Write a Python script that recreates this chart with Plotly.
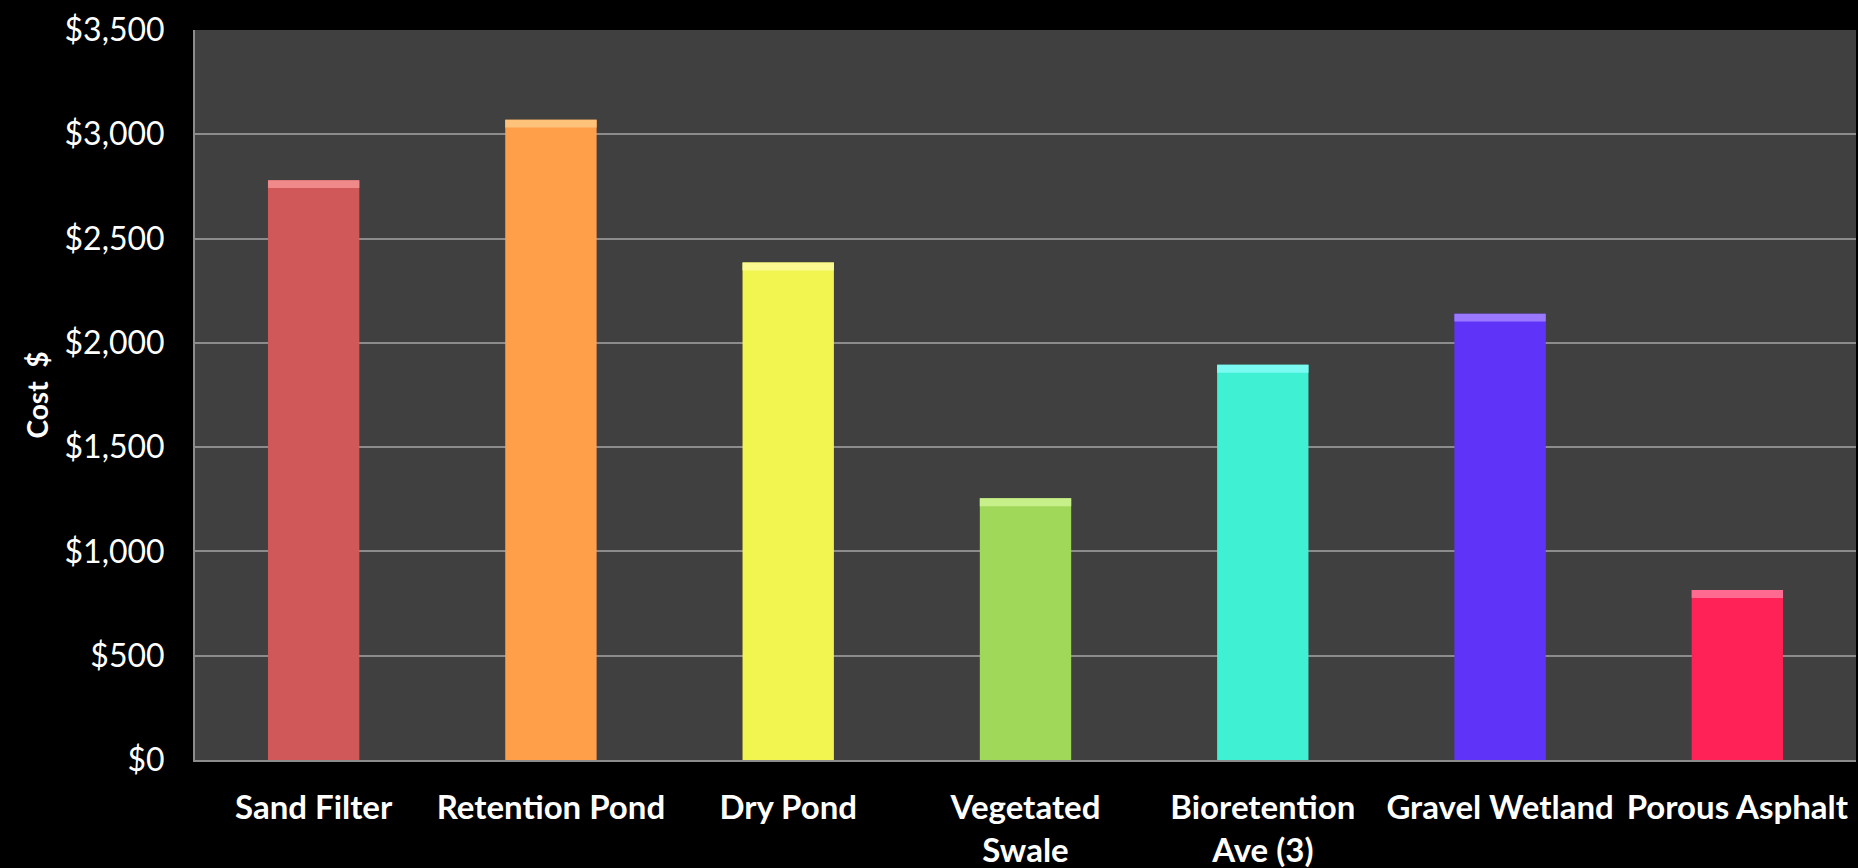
import plotly.graph_objects as go

categories = ["Sand Filter", "Retention Pond", "Dry Pond", "Vegetated<br>Swale",
              "Bioretention<br>Ave (3)", "Gravel Wetland", "Porous Asphalt"]
costs = [2780, 3070, 2385, 1255, 1895, 2140, 815]
bar_colors = ["#D05858", "#FF9F4A", "#F2F550", "#A0D85A", "#40F0D2", "#6034F8", "#FF2257"]
top_colors = ["#F08A8A", "#FFC27A", "#FAFA90", "#C8F08A", "#7AFAF0", "#9A78FF", "#FF6A90"]
y_ticks = [0, 500, 1000, 1500, 2000, 2500, 3000, 3500]
y_tick_labels = ["$" + f"{v:,}" for v in y_ticks]

BEVEL = 38
FONT = "Lato, 'Open Sans', sans-serif"

fig = go.Figure()
fig.add_trace(go.Bar(
    x=categories, y=costs,
    marker=dict(color=bar_colors, line=dict(width=0)),
    hoverinfo="x+y",
))
fig.add_trace(go.Bar(
    x=categories, y=[BEVEL] * len(costs), base=[c - BEVEL for c in costs],
    marker=dict(color=top_colors, line=dict(width=0)),
    hoverinfo="skip",
))

fig.update_layout(
    width=1858, height=868, autosize=False,
    paper_bgcolor="#000000", plot_bgcolor="#404040",
    margin=dict(l=195, r=2, t=30, b=108),
    barmode="overlay", bargap=0.615, showlegend=False,
    font=dict(family=FONT, color="#FFFFFF"),
)
fig.update_xaxes(
    automargin=False,
    showline=True, linecolor="#8C8C8C", linewidth=2,
    showgrid=False, ticks="",
    tickfont=dict(family=FONT, size=33, color="#FFFFFF", weight="bold"),
    ticklabelstandoff=17,
)
fig.update_yaxes(
    automargin=False,
    range=[0, 3500], tickmode="array", tickvals=y_ticks, ticktext=y_tick_labels,
    showgrid=True, gridcolor="#8C8C8C", gridwidth=2,
    showline=True, linecolor="#8C8C8C", linewidth=2, zeroline=False,
    ticks="", ticklabelstandoff=22,
    tickfont=dict(family=FONT, size=32, color="#FFFFFF"),
    title=dict(text="Cost  $", font=dict(family=FONT, size=28, color="#FFFFFF", weight="bold"), standoff=8),
)

fig.write_html("out.html")
